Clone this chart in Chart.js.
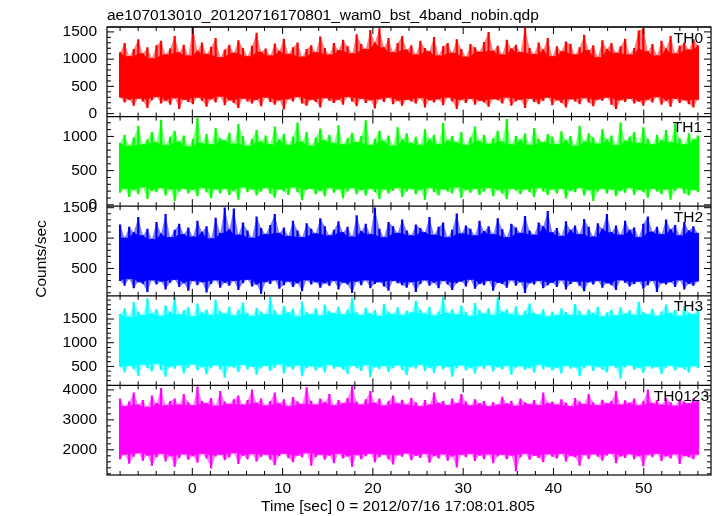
<!DOCTYPE html>
<html lang="en">
<head>
  <meta charset="UTF-8" />
  <title>ae107013010 wam0 bst 4band light curve</title>
  <style>
    html, body { margin: 0; padding: 0; background: #fff; }
    canvas { display: block; }
  </style>
</head>
<body>
  <canvas id="lcChart" width="717" height="516"></canvas>

  <script src="https://cdn.jsdelivr.net/npm/chart.js"></script>
  <script>
    // Light curve data (upper / lower envelope of the noise band)
    const titleText = 'ae107013010_20120716170801_wam0_bst_4band_nobin.qdp';
    const xLabel = 'Time [sec] 0 = 2012/07/16 17:08:01.805';
    const yLabel = 'Counts/sec';

    const panelNames = ['TH0', 'TH1', 'TH2', 'TH3', 'TH0123'];
    const panelColors = ['#ff0000', '#00ff00', '#0000ff', '#00ffff', '#ff00ff'];
    const panelEdges = ['rgba(255,0,0,0.5)', 'rgba(0,255,0,0.5)', 'rgba(0,0,255,0.5)', 'rgba(0,255,255,0.5)', 'rgba(255,0,255,0.5)'];

    const yMins = [-55, -20, 50, 100, 1160];
    const yMaxs = [1590, 1290, 1525, 1990, 4150];
    const majorSteps = [500, 500, 500, 500, 1000];
    const minorSteps = [100, 100, 100, 100, 200];

    const xMin = -9.45, xMax = 57.45;
    const timeStart = -8, timeEnd = 56;

    const th0Hi = [1120,1290,1050,1180,1360,1100,1210,1010,1250,1330,1080,1190,1420,1120,1260,1060,
      1580,1150,1300,1090,1220,1380,1030,1170,1260,1110,1340,1200,1050,1240,1480,1130,
      1190,1060,1280,1150,1370,1090,1210,1300,1040,1180,1250,1120,1410,1200,1080,1290,
      1160,1350,1230,1100,1450,1270,1180,1530,1300,1560,1210,1380,1120,1290,1420,1170,
      1250,1080,1330,1200,1140,1400,1060,1230,1290,1110,1360,1180,1040,1270,1210,1130,
      1310,1490,1150,1240,1080,1350,1190,1260,1120,1570,1200,1090,1300,1170,1380,1050,
      1230,1140,1320,1270,1080,1210,1440,1160,1250,1030,1340,1180,1290,1110,1230,1370,
      1080,1200,1520,1560,1140,1270,1060,1330,1190,1420,1100,1240,1300,1170,1360,1250];
    const th0Lo = [300,210,260,150,280,230,110,250,310,190,240,170,290,90,260,220,
      180,300,240,130,270,210,320,160,250,200,110,280,230,190,260,140,
      300,220,170,250,80,270,230,310,190,150,260,220,120,290,240,200,
      260,170,310,230,140,280,200,250,100,270,220,300,180,240,150,260,
      230,190,290,120,250,210,270,160,300,230,90,260,200,280,170,240,
      210,130,270,250,190,300,150,230,260,110,280,220,180,240,300,160,
      250,200,120,270,230,180,290,210,140,260,240,300,170,90,250,220,
      280,190,230,150,260,210,310,170,240,130,280,200,250,180,120,260];

    const th1Hi = [900,1020,860,980,1150,880,950,1060,910,1240,870,990,1080,920,1010,850,
      960,1270,900,1030,880,1120,970,940,1050,890,1180,1000,860,960,1090,920,
      1010,880,1140,950,1030,870,990,1200,920,1060,860,980,1110,940,1020,900,
      1160,880,970,1050,910,1000,1230,870,960,1080,930,1010,860,1130,950,1040,
      900,990,870,1100,960,1020,880,1190,940,1000,910,1060,870,980,1140,930,
      1020,890,970,1080,920,1250,880,1000,950,1040,870,1120,960,910,1030,990,
      880,1070,940,1000,860,1150,920,1040,980,890,1100,950,1010,870,1200,930,
      990,1060,900,1130,960,880,1020,940,1090,910,1180,970,880,1040,950,1010];
    const th1Lo = [180,240,120,220,160,260,90,210,190,250,140,230,60,200,240,170,
      220,130,250,190,100,230,170,240,150,210,80,260,190,230,140,200,
      250,170,110,230,200,150,260,190,70,220,240,160,210,130,250,180,
      230,100,200,250,160,220,140,240,190,90,230,170,210,250,120,200,
      240,160,220,80,250,190,140,230,200,170,260,110,220,180,240,150,
      200,250,130,220,170,90,240,210,160,230,190,120,250,200,150,230,
      170,240,100,210,190,250,140,220,60,200,240,170,230,130,210,180,
      250,150,220,190,110,240,200,160,230,80,210,250,170,140,220,190];

    const th2Hi = [1220,1000,1180,1090,1340,1040,1150,980,1260,1070,1390,1010,1130,1230,1060,1170,
      1020,1280,1100,1190,990,1330,1080,1500,1140,1480,1050,1250,1120,1000,1350,1160,
      1060,1210,1390,1080,1170,1030,1280,1120,1010,1240,1150,1070,1320,1190,1040,1130,
      1270,1090,1180,1020,1370,1110,1230,1060,1500,1150,1010,1260,1190,1080,1300,1120,
      1040,1220,1160,1090,1340,1050,1180,1250,1010,1130,1400,1070,1200,1150,1040,1280,
      1110,1190,1060,1320,1140,1010,1230,1170,1080,1360,1120,1050,1250,1190,1440,1090,
      1160,1030,1270,1130,1200,1060,1310,1180,1020,1240,1150,1390,1090,1200,1050,1280,
      1130,1170,1010,1230,1350,1100,1180,1060,1300,1140,1210,1040,1260,1120,1190,1080];
    const th2Lo = [300,220,330,180,280,250,120,310,240,290,160,270,320,200,260,140,
      300,230,280,110,250,310,190,270,220,300,150,260,320,210,240,90,
      280,250,310,170,230,290,200,260,130,310,240,280,190,260,220,300,
      160,270,240,100,290,230,310,180,250,280,210,140,300,260,230,190,
      280,120,250,310,220,270,180,300,240,150,260,290,210,320,170,250,
      230,300,140,270,250,190,310,220,280,100,260,240,300,180,230,270,
      200,310,160,250,290,220,130,280,240,300,190,260,230,150,310,270,
      210,250,290,170,230,300,120,260,240,280,200,310,160,250,220,290];

    const th3Hi = [1600,1720,1540,1850,1650,1580,1930,1620,1700,1560,1780,1640,1950,1590,1680,1740,
      1550,1820,1630,1700,1580,1900,1660,1610,1750,1570,1690,1840,1620,1560,1730,1650,
      1600,1960,1680,1580,1770,1630,1710,1550,1860,1640,1600,1720,1570,1800,1660,1620,
      1750,1590,1690,1940,1640,1580,1730,1610,1680,1560,1810,1650,1600,1740,1580,1670,
      1630,1880,1690,1610,1750,1570,1650,1960,1620,1700,1590,1780,1640,1560,1830,1680,
      1610,1720,1580,1940,1650,1700,1600,1760,1570,1670,1820,1630,1590,1700,1550,1650,
      1580,1720,1640,1580,1810,1660,1570,1700,1620,1750,1550,1630,1690,1570,1740,1610,
      1680,1580,1860,1640,1600,1710,1560,1650,1800,1620,1690,1560,1770,1630,1600,1700];
    const th3Lo = [500,380,520,450,310,540,470,400,560,430,290,500,460,530,360,480,
      550,420,500,340,470,530,450,270,510,480,390,540,440,500,330,470,
      520,410,480,550,360,500,440,530,300,470,510,420,490,380,540,460,
      500,440,350,520,470,410,540,280,490,450,520,390,470,530,430,320,
      500,460,540,410,480,370,520,450,500,290,470,530,420,480,360,510,
      460,530,400,490,440,520,330,480,510,430,470,380,540,450,500,420,
      480,360,520,460,490,300,470,530,410,500,440,380,520,470,250,490,
      530,430,480,370,510,460,500,340,480,520,420,490,450,380,510,470];

    const th0123Hi = [3700,3450,3600,3900,3500,3650,3420,3800,3550,4050,3480,3620,3700,3500,3850,3580,
      3480,4100,3620,3550,3720,3460,3950,3600,3520,3680,3800,3500,3650,4000,3560,3700,
      3470,3620,3900,3540,3680,3450,3750,3600,3520,4080,3620,3500,3700,3580,3850,3480,
      3650,3550,3720,4120,3600,3500,3680,3950,3560,3700,3470,3620,3800,3540,3660,3500,
      3720,3580,3450,3650,3500,3900,3560,3620,3480,3700,3550,3850,3600,3470,3680,3540,
      3620,3450,3580,3500,3760,3540,3620,3460,3700,3580,3520,3650,3480,3900,3560,3600,
      3500,3680,3560,3450,3720,3600,3520,3850,3580,3480,3660,3540,3620,3950,3500,3640,
      3560,3700,3480,3620,4000,3550,3650,3500,3720,3580,3460,3680,3600,3540,3700,3620];
    const th0123Lo = [1700,1850,1550,1780,1900,1650,1820,1480,1760,1880,1620,1800,1450,1740,1860,1680,
      1800,1580,1880,1720,1400,1790,1850,1660,1760,1900,1540,1810,1700,1870,1620,1780,
      1850,1690,1500,1800,1880,1730,1600,1820,1760,1900,1480,1770,1850,1680,1820,1560,
      1880,1720,1790,1450,1840,1700,1800,1880,1600,1760,1850,1700,1520,1830,1780,1890,
      1660,1810,1740,1880,1580,1800,1720,1860,1650,1790,1420,1840,1760,1880,1640,1820,
      1700,1860,1560,1790,1850,1700,1820,1300,1760,1880,1680,1810,1740,1600,1860,1780,
      1720,1880,1620,1800,1760,1480,1840,1700,1860,1780,1650,1820,1880,1560,1790,1740,
      1860,1700,1800,1460,1840,1760,1880,1640,1790,1720,1860,1540,1800,1760,1700,1850];

    const upperBands = [th0Hi, th1Hi, th2Hi, th3Hi, th0123Hi];
    const lowerBands = [th0Lo, th1Lo, th2Lo, th3Lo, th0123Lo];

    const FONT = "'Liberation Sans', Arial, Helvetica, sans-serif";
    const FONT_SIZE = 15.5;

    function sampleTimes(n) {
      const step = (timeEnd - timeStart) / (n - 1);
      return Array.from({ length: n }, (_, i) => timeStart + i * step);
    }

    // dense part of the band: each sample clipped to its neighbours
    function coreEdge(values, pick) {
      return values.map((v, i) => pick(v, values[Math.max(i - 1, 0)], values[Math.min(i + 1, values.length - 1)]));
    }

    function bandLine(times, values, axis, border, fill, bg) {
      return {
        type: 'line',
        data: times.map((t, k) => ({ x: t, y: values[k] })),
        yAxisID: axis,
        borderColor: border,
        borderWidth: border ? 1 : 0,
        backgroundColor: bg,
        pointRadius: 0,
        tension: 0,
        fill: fill
      };
    }

    const datasets = [];
    panelNames.forEach((name, i) => {
      const hi = upperBands[i];
      const lo = lowerBands[i];
      const axis = 'y' + i;
      const times = sampleTimes(hi.length);

      // thin vertical strokes: full excursion of each sample (drawn on top)
      datasets.push({
        type: 'bar',
        label: name,
        data: times.map((t, k) => ({ x: t, y: [lo[k], hi[k]] })),
        yAxisID: axis,
        backgroundColor: panelColors[i],
        borderWidth: 0,
        barThickness: 1.6,
        grouped: false
      });
      // solid core band
      datasets.push(bandLine(times, coreEdge(hi, Math.min), axis, panelEdges[i], '+1', panelColors[i]));
      datasets.push(bandLine(times, coreEdge(lo, Math.max), axis, panelEdges[i], false));
      // lighter outer band between the raw envelopes (drawn first)
      datasets.push(bandLine(times, hi, axis, null, '+1', panelEdges[i]));
      datasets.push(bandLine(times, lo, axis, null, false));
    });

    const scales = {
      x: {
        type: 'linear',
        offset: false,
        min: xMin,
        max: xMax,
        grid: { display: false, drawTicks: false, offset: false },
        border: { display: false },
        ticks: {
          stepSize: 10,
          includeBounds: false,
          color: '#000',
          padding: 4,
          maxRotation: 0,
          font: { family: FONT, size: FONT_SIZE }
        },
        afterFit(scale) { scale.height = 41; }
      }
    };
    panelNames.forEach((name, i) => {
      scales['y' + i] = {
        type: 'linear',
        position: 'left',
        stack: 'panels',
        stackWeight: 1,
        weight: 10 - i,
        min: yMins[i],
        max: yMaxs[i],
        grid: { display: false, drawTicks: false },
        border: { display: false },
        ticks: {
          autoSkip: false,
          color: '#000',
          padding: 10,
          font: { family: FONT, size: FONT_SIZE },
          callback: (v) => String(v)
        },
        afterBuildTicks(scale) {
          const step = majorSteps[i];
          const ticks = [];
          for (let k = Math.ceil(yMins[i] / step); k * step <= yMaxs[i]; k++) {
            ticks.push({ value: k * step });
          }
          scale.ticks = ticks;
        },
        afterFit(scale) { scale.width = 107; }
      };
    });

    // qdp style frame: boxed panels, inward ticks, panel names and titles
    const labelInset = [8, 9, 8, 8, 2];
    const qdpFrame = {
      id: 'qdpFrame',
      afterDatasetsDraw(chart) {
        const { ctx, chartArea: a, scales: s } = chart;
        const xs = s.x;
        ctx.save();
        ctx.strokeStyle = '#000';

        const seg = (x1, y1, x2, y2) => {
          ctx.beginPath();
          ctx.moveTo(x1, y1);
          ctx.lineTo(x2, y2);
          ctx.stroke();
        };

        ctx.lineWidth = 1.2;
        ctx.strokeRect(a.left, a.top, a.right - a.left, a.bottom - a.top);

        panelNames.forEach((name, i) => {
          const ys = s['y' + i];
          ctx.lineWidth = 1.2;
          seg(a.left, ys.top, a.right, ys.top);

          ctx.lineWidth = 1;
          const minor = minorSteps[i];
          for (let k = Math.ceil(ys.min / minor); k <= Math.floor(ys.max / minor); k++) {
            const v = k * minor;
            const py = ys.getPixelForValue(v);
            const len = v % majorSteps[i] === 0 ? 7 : 4;
            seg(a.left, py, a.left + len, py);
            seg(a.right - len, py, a.right, py);
          }
          for (let k = Math.ceil(xs.min / 2); k <= Math.floor(xs.max / 2); k++) {
            const t = k * 2;
            const px = xs.getPixelForValue(t);
            const len = t % 10 === 0 ? 7 : 4;
            seg(px, ys.top, px, ys.top + len);
            seg(px, ys.bottom - len, px, ys.bottom);
          }

          ctx.fillStyle = '#000';
          ctx.font = FONT_SIZE + 'px ' + FONT;
          ctx.textAlign = 'right';
          ctx.textBaseline = 'alphabetic';
          ctx.fillText(name, a.right - labelInset[i], ys.top + 15.5);
        });

        ctx.fillStyle = '#000';
        ctx.font = FONT_SIZE + 'px ' + FONT;
        ctx.textAlign = 'left';
        ctx.textBaseline = 'alphabetic';
        ctx.fillText(titleText, a.left, 19.5);

        ctx.textAlign = 'center';
        ctx.textBaseline = 'middle';
        ctx.fillText(xLabel, 398, 506.5);

        ctx.translate(42, 259);
        ctx.rotate(-Math.PI / 2);
        ctx.fillText(yLabel, 0, 0);
        ctx.restore();
      }
    };

    new Chart(document.getElementById('lcChart').getContext('2d'), {
      type: 'line',
      data: { datasets },
      options: {
        responsive: false,
        animation: false,
        layout: { padding: { top: 27, right: 6, bottom: 0, left: 0 } },
        plugins: {
          legend: { display: false },
          tooltip: { enabled: false }
        },
        scales
      },
      plugins: [qdpFrame]
    });
  </script>
</body>
</html>
